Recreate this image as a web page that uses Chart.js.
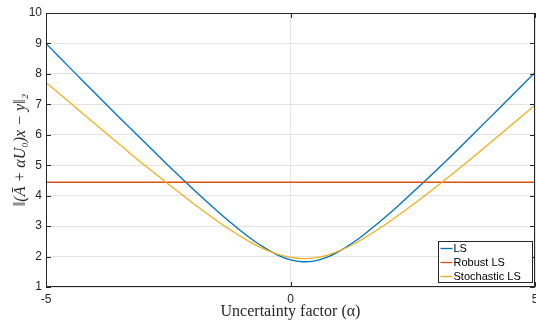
<!DOCTYPE html>
<html>
<head>
<meta charset="utf-8">
<script src="https://cdn.jsdelivr.net/npm/chart.js@4"></script>
<style>
  html, body { margin: 0; padding: 0; background: #fff; }
  #wrap { width: 536px; height: 321px; }
</style>
</head>
<body>
<div id="wrap"><canvas id="chart" width="536" height="321"></canvas></div>
<script>
// values
const alpha = [-5, -4.5, -4, -3.5, -3, -2.5, -2, -1.5, -1, -0.75, -0.5, -0.25, 0,
  0.25, 0.5, 0.75, 1, 1.25, 1.5, 2, 2.5, 3, 3.5, 4, 4.5, 5];
const lsValues = [9.00, 8.18, 7.37, 6.57, 5.78, 4.99, 4.23, 3.50, 2.82, 2.52, 2.26, 2.04, 1.89,
  1.83, 1.86, 1.98, 2.18, 2.43, 2.72, 3.38, 4.11, 4.86, 5.64, 6.44, 7.24, 8.05];
const robustValues = [4.44, 4.44, 4.44, 4.44, 4.44, 4.44, 4.44, 4.44, 4.44, 4.44, 4.44, 4.44, 4.44,
  4.44, 4.44, 4.44, 4.44, 4.44, 4.44, 4.44, 4.44, 4.44, 4.44, 4.44, 4.44, 4.44];
const stochValues = [7.72, 7.04, 6.36, 5.69, 5.02, 4.38, 3.76, 3.17, 2.64, 2.41, 2.22, 2.07, 1.97,
  1.93, 1.96, 2.04, 2.19, 2.37, 2.60, 3.12, 3.70, 4.32, 4.96, 5.62, 6.30, 6.97];
const seriesNames = ['LS', 'Robust LS', 'Stochastic LS'];
const xTicks = [-5, 0, 5];
const yTicks = [1, 2, 3, 4, 5, 6, 7, 8, 9, 10];

const colors = ['#0072BD', '#D95319', '#EDB120'];
const axisColor = '#262626';

function pts(vals) {
  return alpha.map((a, i) => ({ x: a, y: vals[i] }));
}

// box, inward ticks and legend the MATLAB way
const matlabAxes = {
  id: 'matlabAxes',
  afterDatasetsDraw(chart) {
    const ctx = chart.ctx;
    const a = chart.chartArea;
    const xs = chart.scales.x, ys = chart.scales.y;
    ctx.save();
    ctx.strokeStyle = axisColor;
    ctx.lineWidth = 1;
    ctx.beginPath();
    ctx.rect(a.left + 0.5, a.top + 0.5, a.right - a.left - 1, a.bottom - a.top - 1);
    ctx.stroke();
    const tl = 5;
    ctx.beginPath();
    xTicks.forEach(v => {
      const px = Math.round(xs.getPixelForValue(v)) + 0.5;
      ctx.moveTo(px, a.bottom); ctx.lineTo(px, a.bottom - tl);
      ctx.moveTo(px, a.top); ctx.lineTo(px, a.top + tl);
    });
    yTicks.forEach(v => {
      const py = Math.round(ys.getPixelForValue(v)) + 0.5;
      ctx.moveTo(a.left, py); ctx.lineTo(a.left + tl, py);
      ctx.moveTo(a.right, py); ctx.lineTo(a.right - tl, py);
    });
    ctx.stroke();

    // legend, bottom right inside the axes
    const bx = 438.5, by = 241.5, bw = 94, bh = 41;
    ctx.fillStyle = '#fff';
    ctx.fillRect(bx, by, bw, bh);
    ctx.strokeStyle = axisColor;
    ctx.strokeRect(bx, by, bw, bh);
    ctx.font = '11px "Liberation Sans", Arial, sans-serif';
    ctx.textBaseline = 'middle';
    ctx.textAlign = 'left';
    chart.data.datasets.forEach((ds, i) => {
      const y = by + 7 + i * 14;
      ctx.strokeStyle = ds.borderColor;
      ctx.lineWidth = 1.3;
      ctx.beginPath();
      ctx.moveTo(bx + 2, y); ctx.lineTo(bx + 14, y);
      ctx.stroke();
      ctx.fillStyle = '#000';
      ctx.fillText(ds.label, bx + 15, y + 0.5);
    });
    ctx.restore();
  }
};

new Chart(document.getElementById('chart'), {
  type: 'line',
  data: {
    datasets: [
      { label: seriesNames[0], data: pts(lsValues), borderColor: colors[0], order: 2 },
      { label: seriesNames[1], data: pts(robustValues), borderColor: colors[1], order: 1 },
      { label: seriesNames[2], data: pts(stochValues), borderColor: colors[2], order: 0 }
    ].map(d => Object.assign(d, { borderWidth: 1.3, pointRadius: 0, tension: 0.3, fill: false }))
  },
  options: {
    responsive: false,
    animation: false,
    layout: { padding: { top: 13, right: 1, left: 0, bottom: 0 } },
    plugins: { legend: { display: false }, tooltip: { enabled: false } },
    scales: {
      x: {
        type: 'linear',
        min: -5, max: 5,
        afterBuildTicks: s => { s.ticks = xTicks.map(v => ({ value: v })); },
        afterFit: s => { s.height = 34; s.paddingLeft = 0; s.paddingRight = 0; },
        grid: { color: '#e3e3e3', drawTicks: false },
        border: { display: false },
        ticks: { color: axisColor, padding: 5, maxRotation: 0,
          font: { family: '"Liberation Sans", Arial, sans-serif', size: 12 } },
        title: {
          display: true,
          text: 'Uncertainty factor (α)',
          color: axisColor,
          padding: { top: 0, bottom: 0 },
          font: { family: '"Liberation Serif", "Times New Roman", serif', size: 16 }
        }
      },
      y: {
        min: 1, max: 10,
        afterBuildTicks: s => { s.ticks = yTicks.map(v => ({ value: v })); },
        afterFit: s => { s.width = 46; s.paddingTop = 0; s.paddingBottom = 0; },
        grid: { color: '#e3e3e3', drawTicks: false },
        border: { display: false },
        ticks: { color: axisColor, padding: 4,
          font: { family: '"Liberation Sans", Arial, sans-serif', size: 12 } },
        title: {
          display: true,
          text: '\u2016(A\u0304 + \u03b1U\u2080)x \u2212 y\u2016\u2082',
          color: axisColor,
          padding: { top: 11, bottom: 0 },
          font: { family: '"Liberation Serif", "Times New Roman", serif', size: 16, style: 'italic' }
        }
      }
    }
  },
  plugins: [matlabAxes]
});
</script>
</body>
</html>
